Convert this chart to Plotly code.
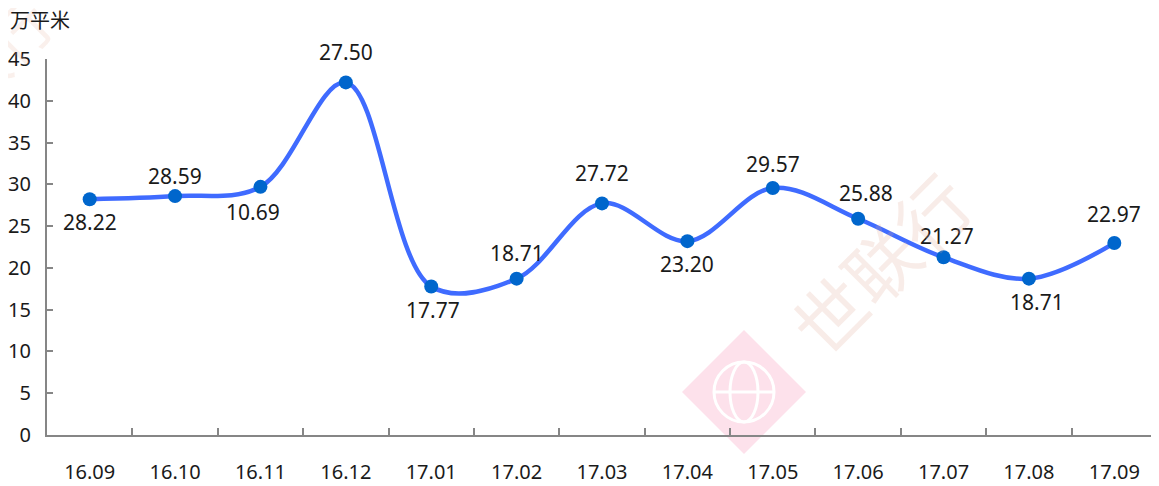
import plotly.graph_objects as go

months = ["16.09", "16.10", "16.11", "16.12", "17.01", "17.02", "17.03",
          "17.04", "17.05", "17.06", "17.07", "17.08", "17.09"]
values = [28.22, 28.59, 29.7, 42.2, 17.77, 18.71, 27.72,
          23.20, 29.57, 25.88, 21.27, 18.71, 22.97]
labels = ["28.22", "28.59", "10.69", "27.50", "17.77", "18.71", "27.72",
          "23.20", "29.57", "25.88", "21.27", "18.71", "22.97"]
y_ticks = [0, 5, 10, 15, 20, 25, 30, 35, 40, 45]

# label offsets (pixels) relative to each point
label_dy = [-23, 20, -25, 30, -23, 26, 30, -23, 24, 26, 21, -23, 29]
label_dx = [0, 0, -7, 0, 2, 0, 0, 0, 0, 8, 3, 8, 0]

FONT = "Noto Sans"
AXIS = "#868686"
TXT = "#1a1a1a"

# page body has an 8px margin; layout in page pixels
O = 8
W, H = 1159 - O, 486 - O
L, T = 47 - O, 59 - O
B = H - (435 - O)
R = W - (1157 - O)

def px(x):
    return (x - O - L) / (W - L - R)
def py(y):
    return (H - B - (y - O)) / (H - T - B)

fig = go.Figure()
fig.add_trace(go.Scatter(
    x=months, y=values, mode="lines+markers",
    line=dict(color="#3F6BFF", width=4.5, shape="spline", smoothing=1.0),
    marker=dict(color="#0066CC", size=14),
    cliponaxis=False, hoverinfo="skip",
))

for i, (v, lab, dy, dx) in enumerate(zip(values, labels, label_dy, label_dx)):
    fig.add_annotation(x=i, y=v, text=lab, showarrow=False,
                       xanchor="center", yanchor="middle", yshift=dy, xshift=dx,
                       font=dict(family=FONT, size=21, color=TXT))

# watermark diamond logo
cx, cy, hd = 744, 392, 62
fig.add_shape(type="path", xref="paper", yref="paper", layer="below",
              path=(f"M {px(cx-hd)} {py(cy)} L {px(cx)} {py(cy-hd)} "
                    f"L {px(cx+hd)} {py(cy)} L {px(cx)} {py(cy+hd)} Z"),
              fillcolor="rgba(252,215,228,0.75)", line=dict(width=0))
fig.add_shape(type="circle", xref="paper", yref="paper", layer="below",
              x0=px(cx-30), x1=px(cx+30), y0=py(cy+30), y1=py(cy-30),
              line=dict(color="white", width=3))
fig.add_shape(type="circle", xref="paper", yref="paper", layer="below",
              x0=px(cx-14), x1=px(cx+14), y0=py(cy+30), y1=py(cy-30),
              line=dict(color="white", width=3))
fig.add_shape(type="line", xref="paper", yref="paper", layer="below",
              x0=px(cx-30), x1=px(cx+30), y0=py(cy), y1=py(cy),
              line=dict(color="white", width=3))

fig.add_annotation(xref="paper", yref="paper", x=px(995), y=py(262),
                   text="世联行", showarrow=False, textangle=-45,
                   font=dict(family="Noto Sans CJK SC", size=72, color="rgba(225,170,150,0.22)"))
fig.add_annotation(xref="paper", yref="paper", x=px(-80), y=py(-25),
                   text="联行", showarrow=False, textangle=-45,
                   font=dict(family="Noto Sans CJK SC", size=60, color="rgba(225,170,150,0.18)"))

fig.add_annotation(xref="paper", yref="paper", x=px(8), y=py(20),
                   xanchor="left", yanchor="middle", text="万平米", showarrow=False,
                   font=dict(family="Noto Sans CJK SC", size=20, color=TXT))

fig.update_layout(
    width=W, height=H,
    margin=dict(l=L, r=R, t=T, b=B),
    plot_bgcolor="white", paper_bgcolor="white",
    showlegend=False,
    font=dict(family=FONT, size=21, color=TXT),
)
fig.update_xaxes(
    type="category", showgrid=False, showline=True, linecolor=AXIS, linewidth=2,
    ticks="inside", ticklen=7, tickwidth=2, tickcolor=AXIS, tickson="boundaries",
    ticklabelstandoff=18, range=[-0.5, len(months) - 0.5], automargin=False,
    tickfont=dict(family=FONT, size=20, color=TXT),
)
fig.update_yaxes(
    range=[0, 45], tickvals=y_ticks, showgrid=False, zeroline=False,
    showline=True, linecolor=AXIS, linewidth=2,
    ticks="inside", ticklen=6, tickwidth=2, tickcolor=AXIS,
    ticklabelstandoff=10, automargin=False,
    tickfont=dict(family=FONT, size=20, color=TXT),
)

fig.write_html("out.html")
